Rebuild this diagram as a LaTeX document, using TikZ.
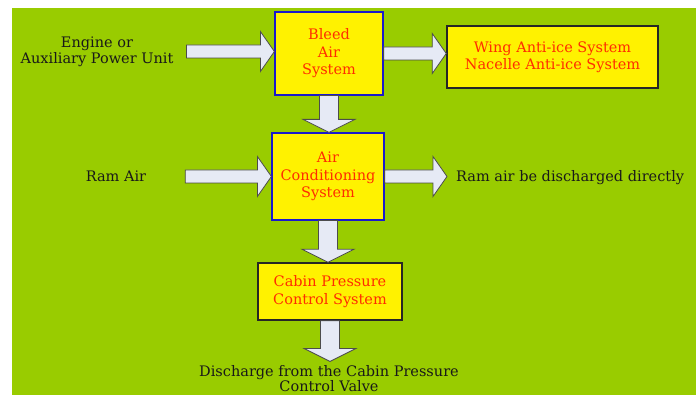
\documentclass[tikz,border=0pt]{standalone}
\usepackage{fontspec}
\setmainfont{DejaVu Serif}
\usetikzlibrary{calc}

\definecolor{bggreen}{RGB}{153,204,0}
\definecolor{boxred}{RGB}{255,45,0}
\definecolor{boxblue}{RGB}{25,25,205}
\definecolor{arrowfill}{RGB}{230,234,245}

\tikzstyle{sysbox}=[rectangle,fill=yellow,draw=boxblue,line width=1.2pt,text=boxred,align=center,inner sep=0pt,font=\fontsize{14.5}{17.5}\selectfont]
\tikzstyle{subbox}=[sysbox,draw=black!85,line width=1.5pt]
\tikzstyle{srctext}=[align=center,inner sep=0pt,text=black!90,font=\fontsize{14.5}{16}\selectfont]
\tikzstyle{hblock}=[draw=black!70,fill=arrowfill,line width=0.8pt,
	to path={let \p1=(\tikztostart), \p2=(\tikztotarget) in
		(\x1,\y1+6.5pt) -- (\x2-14pt,\y1+6.5pt) -- (\x2-14pt,\y1+20pt) -- (\x2,\y1)
		-- (\x2-14pt,\y1-20pt) -- (\x2-14pt,\y1-6.5pt) -- (\x1,\y1-6.5pt) -- cycle}]
\tikzstyle{vblock}=[draw=black!70,fill=arrowfill,line width=0.8pt,
	to path={let \p1=(\tikztostart), \p2=(\tikztotarget) in
		(\x1-9.5pt,\y1) -- (\x1-9.5pt,\y2+13pt) -- (\x1-26pt,\y2+13pt) -- (\x1,\y2)
		-- (\x1+26pt,\y2+13pt) -- (\x1+9.5pt,\y2+13pt) -- (\x1+9.5pt,\y1) -- cycle}]

\begin{document}
\begin{tikzpicture}[x=1pt,y=-1pt]
	\useasboundingbox (0,0) rectangle (696,395);
	\clip (0,0) rectangle (696,395);
	%Background
	\fill[white] (0,0) rectangle (696,395);
	\fill[bggreen] (12,8) rectangle (696,395);

	%The system boxes
	\node[sysbox,minimum width=108pt,minimum height=83pt] (bleed) at (329,53.5) {Bleed\\Air\\System};
	\node[sysbox,minimum width=112pt,minimum height=87pt] (ac) at (328,176.5) {Air\\Conditioning\\System};
	\node[subbox,minimum width=211pt,minimum height=62pt] (wing) at (552.5,57) {Wing Anti-ice System\\Nacelle Anti-ice System};
	\node[subbox,minimum width=144pt,minimum height=57pt] (cabin) at (330,291.5) {Cabin Pressure\\Control System};

	%Sources and outlets
	\node[srctext] (engine) at (97,51.5) {Engine or\\Auxiliary Power Unit};
	\node[srctext] (ram) at (116,176.5) {Ram Air};
	\node[srctext,anchor=west] (ramout) at (456,178) {Ram air be discharged directly};
	\node[srctext,font=\fontsize{14.5}{14.5}\selectfont] (discharge) at (329,378.5) {Discharge from the Cabin Pressure\\Control Valve};

	%Block arrows
	\draw[hblock] ([xshift=13pt]engine.east) to (bleed.west);
	\draw[hblock] (bleed.east) to (wing.west);
	\draw[hblock] ([xshift=39pt]ram.east) to (ac.west);
	\draw[hblock] (ac.east) to ([xshift=-9pt]ramout.west);
	\foreach \from/\to in {bleed/ac, ac/cabin}
		\draw[vblock] (\from.south) to (\to.north);
	\draw[vblock] (cabin.south) to ([yshift=4pt]discharge.north);
\end{tikzpicture}
\end{document}
